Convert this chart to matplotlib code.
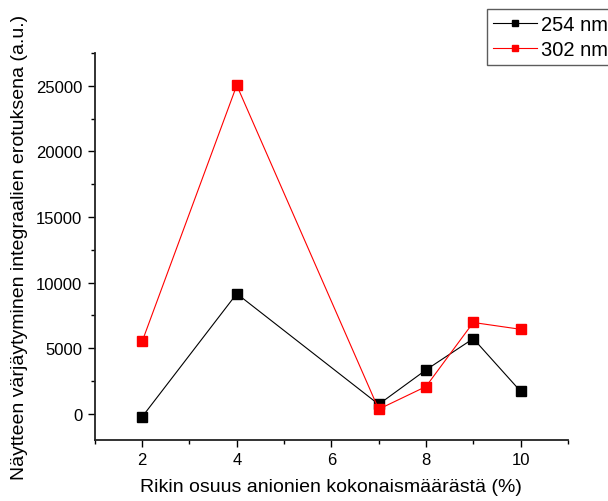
import matplotlib.pyplot as plt
from matplotlib.ticker import MultipleLocator

plt.rcParams['font.family'] = ['Liberation Sans', 'DejaVu Sans']

# sulfur share of anions (%)
rikki = [2, 4, 7, 8, 9, 10]
# integral differences at the two wavelengths
nm254 = [-250, 9150, 700, 3330, 5720, 1700]
nm302 = [5500, 25050, 330, 2060, 6950, 6430]

fig = plt.figure(figsize=(6.08, 5.02), dpi=100)
ax = fig.add_axes([0.156, 0.122, 0.778, 0.770])

ax.plot(rikki, nm254, color="black", lw=0.8, marker="s", ms=6.5, label="254 nm")
ax.plot(rikki, nm302, color="red", lw=0.8, marker="s", ms=6.5, label="302 nm")

ax.set_xlim(1, 11)
ax.set_ylim(-2000, 27500)
ax.xaxis.set_major_locator(MultipleLocator(2))
ax.xaxis.set_minor_locator(MultipleLocator(1))
ax.yaxis.set_major_locator(MultipleLocator(5000))
ax.yaxis.set_minor_locator(MultipleLocator(2500))

for s in ["top", "right"]:
    ax.spines[s].set_visible(False)
for s in ["left", "bottom"]:
    ax.spines[s].set_linewidth(1.3)
    ax.spines[s].set_color("#222222")

ax.tick_params(which="major", direction="out", length=5, width=1, labelsize=12, pad=4)
ax.tick_params(which="minor", direction="out", length=3, width=1)

ax.set_xlabel("Rikin osuus anionien kokonaismäärästä (%)", fontsize=14, labelpad=8)
ax.set_ylabel("Näytteen värjäytyminen integraalien erotuksena (a.u.)", fontsize=14, labelpad=6)

leg = fig.legend(loc="upper left", bbox_to_anchor=(487 / 608, 1 - 10 / 502),
                 fontsize=14.5, frameon=True, fancybox=False, handlelength=2.2,
                 handletextpad=0.2, borderpad=0.3, labelspacing=0.3, borderaxespad=0)
leg.get_frame().set_edgecolor("#333333")
leg.get_frame().set_linewidth(1)
for h in leg.legend_handles:
    h.set_markersize(4.5)

fig.savefig("out.png", dpi=100)
